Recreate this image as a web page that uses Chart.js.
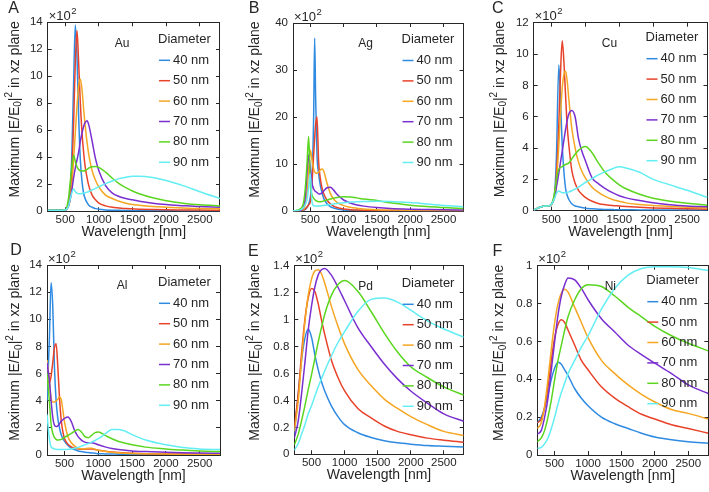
<!DOCTYPE html>
<html>
<head>
<meta charset="utf-8">
<script src="https://cdn.jsdelivr.net/npm/chart.js@4.4.1/dist/chart.umd.min.js"></script>
<style>
  html, body { margin: 0; padding: 0; background: #fff; }
  #wrap { position: relative; width: 709px; height: 492px; }
  #wrap canvas { position: absolute; left: 0; top: 0; }
</style>
</head>
<body>
<div id="wrap"></div>
<script>
// wavelength grids (nm) and field enhancement values (x10^2)
const wlAu = [240, 400, 500, 550, 575, 600, 625, 650, 675, 700, 725, 750, 775, 800, 825, 850, 900, 950, 1000, 1100, 1200, 1300, 1400, 1500, 1600, 1800, 2000, 2250, 2500, 2800];
const au40 = [0.08, 0.08, 0.1, 0.5, 1.5, 4.5, 9.5, 13.8, 11.5, 7, 3.8, 2.2, 1.3, 0.9, 0.65, 0.45, 0.3, 0.2, 0.15, 0.1, 0.08, 0.07, 0.06, 0.05, 0.05, 0.04, 0.04, 0.03, 0.03, 0.03];
const au50 = [0.08, 0.08, 0.1, 0.5, 1.2, 3, 6.5, 11, 13.4, 11, 8, 5.8, 4.3, 3.2, 2.5, 1.9, 1.2, 0.85, 0.6, 0.4, 0.3, 0.25, 0.2, 0.18, 0.16, 0.13, 0.11, 0.1, 0.09, 0.08];
const au60 = [0.08, 0.08, 0.1, 0.4, 0.9, 2, 3.8, 5.8, 7.8, 9.3, 9.8, 9, 7.5, 6.2, 5.1, 4.2, 3, 2.3, 1.8, 1.2, 0.95, 0.75, 0.6, 0.5, 0.45, 0.35, 0.3, 0.25, 0.2, 0.18];
const au70 = [0.08, 0.08, 0.1, 0.4, 0.9, 1.6, 2.5, 3.2, 3.8, 4.4, 5.2, 5.8, 6.3, 6.6, 6.7, 6.4, 5.2, 3.9, 3.0, 1.9, 1.35, 1.1, 0.95, 0.85, 0.75, 0.6, 0.5, 0.42, 0.35, 0.3];
const au80 = [0.08, 0.08, 0.1, 1.0, 2.2, 3.4, 4.15, 3.7, 3.3, 3.1, 3.0, 3.0, 2.98, 3.05, 3.1, 3.2, 3.3, 3.32, 3.25, 2.9, 2.45, 2.05, 1.75, 1.5, 1.3, 1.0, 0.78, 0.6, 0.48, 0.4];
const au90 = [0.08, 0.08, 0.1, 0.4, 0.9, 1.4, 1.65, 1.45, 1.35, 1.3, 1.3, 1.32, 1.35, 1.38, 1.42, 1.47, 1.58, 1.7, 1.82, 2.05, 2.25, 2.42, 2.53, 2.6, 2.6, 2.5, 2.28, 1.9, 1.45, 0.95];

const wlAg = [240, 350, 400, 425, 450, 475, 500, 525, 550, 565, 580, 600, 625, 650, 675, 700, 750, 800, 850, 900, 1000, 1100, 1200, 1300, 1500, 1700, 2000, 2250, 2500, 2800];
const ag40 = [0.05, 0.1, 0.2, 0.4, 0.8, 1.5, 3, 7, 20, 36.8, 24, 12, 8, 5.5, 4, 2.8, 1.6, 1.0, 0.7, 0.5, 0.3, 0.2, 0.15, 0.12, 0.1, 0.08, 0.06, 0.05, 0.05, 0.05];
const ag50 = [0.05, 0.1, 0.3, 0.5, 0.9, 1.4, 2, 6, 12, 15.5, 18.5, 20.1, 10.5, 7, 5, 3.8, 2.4, 1.6, 1.1, 0.8, 0.5, 0.35, 0.25, 0.2, 0.15, 0.12, 0.1, 0.08, 0.07, 0.06];
const ag60 = [0.05, 0.1, 0.5, 1.5, 4, 9, 13, 11, 9, 8.4, 8.1, 8.1, 8.3, 8.8, 9.0, 8.6, 6, 3.8, 2.6, 1.9, 1.2, 0.85, 0.65, 0.5, 0.35, 0.28, 0.2, 0.17, 0.15, 0.12];
const ag70 = [0.05, 0.2, 1, 3, 8, 12, 9, 6, 4.8, 4.4, 4.2, 4.0, 3.7, 3.7, 3.9, 4.3, 5.0, 5.1, 4.5, 3.6, 2.4, 1.75, 1.35, 1.1, 0.8, 0.6, 0.45, 0.38, 0.32, 0.28];
const ag80 = [0.05, 0.5, 2, 5, 10, 15.9, 6, 3.5, 2.8, 2.5, 2.3, 2.15, 2.05, 2.05, 2.1, 2.2, 2.4, 2.6, 2.8, 2.95, 3.1, 3.05, 2.85, 2.6, 2.3, 1.8, 1.3, 1.0, 0.8, 0.6];
const ag90 = [0.1, 0.3, 0.8, 1.5, 2.5, 5, 8, 2, 1.2, 1.1, 1.1, 1.1, 1.12, 1.15, 1.2, 1.25, 1.35, 1.45, 1.55, 1.65, 1.8, 1.95, 2.05, 2.1, 2.15, 2.1, 1.85, 1.55, 1.25, 0.95];

const wlCu = [240, 350, 400, 450, 500, 550, 575, 610, 635, 660, 685, 710, 735, 760, 800, 850, 900, 950, 1000, 1100, 1200, 1300, 1400, 1500, 1600, 1800, 2000, 2250, 2500, 2800];
const cu40 = [0.05, 0.25, 0.3, 0.3, 0.4, 1.2, 3.5, 9.3, 7, 4.2, 2.5, 1.4, 0.95, 0.7, 0.45, 0.3, 0.25, 0.2, 0.15, 0.12, 0.1, 0.08, 0.07, 0.06, 0.06, 0.05, 0.05, 0.05, 0.04, 0.04];
const cu50 = [0.05, 0.25, 0.3, 0.3, 0.4, 1.1, 2.3, 5.5, 8.8, 10.85, 9.5, 7.3, 5.3, 4.1, 2.6, 1.75, 1.3, 1.05, 0.85, 0.6, 0.45, 0.38, 0.33, 0.3, 0.27, 0.22, 0.18, 0.15, 0.12, 0.1];
const cu60 = [0.05, 0.25, 0.3, 0.3, 0.4, 0.9, 1.8, 4.2, 6.2, 7.8, 8.7, 8.9, 8.2, 7.0, 5.3, 4.0, 3.1, 2.5, 2.1, 1.5, 1.15, 0.9, 0.72, 0.6, 0.5, 0.4, 0.33, 0.27, 0.22, 0.18];
const cu70 = [0.05, 0.25, 0.3, 0.3, 0.4, 0.9, 1.5, 2.4, 3.1, 3.8, 4.5, 5.2, 5.8, 6.2, 6.4, 6.0, 4.6, 3.8, 3.2, 2.1, 1.7, 1.4, 1.15, 0.95, 0.82, 0.65, 0.5, 0.38, 0.3, 0.25];
const cu80 = [0.05, 0.25, 0.3, 0.3, 0.4, 1.2, 2.0, 2.65, 2.75, 2.82, 2.9, 2.95, 3.0, 3.05, 3.3, 3.6, 3.85, 4.02, 4.1, 3.7, 3.0, 2.4, 2.0, 1.65, 1.4, 1.05, 0.8, 0.6, 0.48, 0.35];
const cu90 = [0.05, 0.25, 0.3, 0.3, 0.4, 0.8, 1.1, 1.25, 1.2, 1.15, 1.15, 1.15, 1.17, 1.2, 1.27, 1.38, 1.5, 1.65, 1.8, 2.05, 2.3, 2.5, 2.68, 2.8, 2.72, 2.45, 2.0, 1.65, 1.3, 0.85];

const wlAl = [240, 275, 300, 325, 350, 375, 400, 425, 450, 475, 500, 550, 600, 650, 700, 750, 800, 850, 900, 950, 1000, 1100, 1200, 1300, 1400, 1500, 1700, 2000, 2250, 2500, 2800];
const al40 = [4.0, 8.5, 12.7, 11.0, 6.5, 4.0, 2.7, 2.0, 1.5, 1.2, 1.0, 0.7, 0.5, 0.4, 0.3, 0.25, 0.2, 0.18, 0.15, 0.13, 0.1, 0.08, 0.07, 0.06, 0.05, 0.05, 0.04, 0.04, 0.03, 0.03, 0.03];
const al50 = [5.5, 5.3, 5.8, 6.8, 7.9, 8.2, 6.5, 4.2, 2.6, 1.7, 1.2, 0.8, 0.6, 0.5, 0.45, 0.42, 0.42, 0.45, 0.45, 0.4, 0.35, 0.28, 0.22, 0.18, 0.15, 0.13, 0.1, 0.08, 0.07, 0.06, 0.05];
const al60 = [7.0, 5.5, 4.2, 3.9, 3.9, 4.0, 4.1, 4.3, 4.1, 3.3, 2.4, 1.35, 0.9, 0.65, 0.5, 0.45, 0.45, 0.5, 0.5, 0.42, 0.35, 0.27, 0.2, 0.16, 0.13, 0.11, 0.09, 0.07, 0.06, 0.05, 0.05];
const al70 = [6.8, 5.5, 4.0, 2.8, 2.2, 2.1, 2.15, 2.3, 2.5, 2.6, 2.7, 2.8, 2.45, 1.8, 1.35, 1.1, 0.95, 0.9, 0.9, 0.85, 0.75, 0.6, 0.48, 0.4, 0.35, 0.3, 0.25, 0.2, 0.17, 0.15, 0.13];
const al80 = [6.0, 4.0, 2.3, 1.6, 1.3, 1.15, 1.1, 1.12, 1.15, 1.22, 1.3, 1.45, 1.6, 1.75, 1.87, 1.7, 1.35, 1.28, 1.45, 1.65, 1.7, 1.45, 1.2, 1.0, 0.87, 0.75, 0.58, 0.45, 0.36, 0.3, 0.25];
const al90 = [3.0, 1.2, 0.6, 0.5, 0.45, 0.42, 0.4, 0.4, 0.4, 0.4, 0.4, 0.42, 0.45, 0.5, 0.55, 0.65, 0.75, 0.85, 0.95, 1.07, 1.2, 1.55, 1.88, 1.88, 1.75, 1.5, 1.1, 0.75, 0.55, 0.45, 0.4];

const wlPd = [240, 300, 350, 400, 450, 500, 550, 600, 650, 700, 800, 900, 1000, 1200, 1400, 1600, 1800, 2000, 2250, 2500, 2800];
const pd40 = [0.15, 0.45, 0.7, 0.86, 0.93, 0.87, 0.74, 0.63, 0.54, 0.47, 0.36, 0.28, 0.22, 0.16, 0.125, 0.1, 0.085, 0.075, 0.065, 0.06, 0.055];
const pd50 = [0.2, 0.45, 0.75, 1.0, 1.16, 1.23, 1.21, 1.12, 1.0, 0.89, 0.7, 0.57, 0.47, 0.34, 0.27, 0.21, 0.17, 0.145, 0.12, 0.105, 0.09];
const pd60 = [0.17, 0.4, 0.7, 0.98, 1.18, 1.3, 1.36, 1.37, 1.34, 1.27, 1.1, 0.95, 0.82, 0.63, 0.51, 0.41, 0.34, 0.28, 0.22, 0.17, 0.14];
const pd70 = [0.12, 0.25, 0.45, 0.68, 0.92, 1.1, 1.24, 1.33, 1.37, 1.38, 1.33, 1.24, 1.14, 0.94, 0.8, 0.67, 0.56, 0.47, 0.38, 0.3, 0.245];
const pd80 = [0.07, 0.15, 0.25, 0.36, 0.48, 0.59, 0.71, 0.83, 0.94, 1.04, 1.18, 1.26, 1.29, 1.21, 1.06, 0.9, 0.76, 0.65, 0.57, 0.5, 0.44];
const pd90 = [0.03, 0.08, 0.15, 0.22, 0.3, 0.36, 0.43, 0.5, 0.56, 0.62, 0.73, 0.83, 0.91, 1.06, 1.15, 1.16, 1.13, 1.07, 0.99, 0.93, 0.87];

const wlNi = [240, 300, 350, 400, 450, 500, 550, 600, 650, 700, 800, 900, 1000, 1200, 1400, 1600, 1800, 2000, 2250, 2500, 2800];
const ni40 = [0.17, 0.2, 0.25, 0.32, 0.4, 0.46, 0.49, 0.48, 0.45, 0.42, 0.35, 0.3, 0.26, 0.2, 0.165, 0.14, 0.115, 0.095, 0.08, 0.07, 0.062];
const ni50 = [0.17, 0.19, 0.25, 0.36, 0.5, 0.62, 0.69, 0.715, 0.7, 0.66, 0.58, 0.5, 0.45, 0.36, 0.3, 0.255, 0.215, 0.19, 0.16, 0.14, 0.115];
const ni60 = [0.14, 0.17, 0.26, 0.4, 0.56, 0.7, 0.8, 0.855, 0.875, 0.86, 0.78, 0.7, 0.62, 0.5, 0.43, 0.37, 0.32, 0.28, 0.24, 0.22, 0.19];
const ni70 = [0.11, 0.13, 0.2, 0.3, 0.45, 0.6, 0.74, 0.84, 0.9, 0.935, 0.925, 0.88, 0.82, 0.72, 0.65, 0.58, 0.53, 0.485, 0.43, 0.37, 0.325];
const ni80 = [0.07, 0.09, 0.13, 0.2, 0.29, 0.4, 0.5, 0.58, 0.66, 0.73, 0.82, 0.88, 0.9, 0.89, 0.84, 0.78, 0.73, 0.68, 0.63, 0.59, 0.55];
const ni90 = [0.035, 0.04, 0.06, 0.09, 0.14, 0.2, 0.27, 0.33, 0.38, 0.43, 0.5, 0.57, 0.63, 0.77, 0.88, 0.95, 0.985, 0.995, 0.995, 0.99, 0.975];

const diameters = ['40 nm', '50 nm', '60 nm', '70 nm', '80 nm', '90 nm'];
const xTicks = [500, 1000, 1500, 2000, 2500];
const yTicks14 = [0, 2, 4, 6, 8, 10, 12, 14];
const yTicks40 = [0, 10, 20, 30, 40];
const yTicks12 = [0, 2, 4, 6, 8, 10, 12];
const yTicksPd = [0, 0.2, 0.4, 0.6, 0.8, 1, 1.2, 1.4];
const yTicksNi = [0, 0.2, 0.4, 0.6, 0.8, 1];

const colors = ['#2f8be2', '#e8432a', '#f5a623', '#7a2fd0', '#5ad61f', '#62eef2'];
const FONT = '"Liberation Sans", Arial, Helvetica, sans-serif';
const INK = '#262626';
const W = 709, H = 492;
const Y_AXIS_W = 40, X_AXIS_H = 22;

const panels = [
  { letter: 'A', metal: 'Au', wl: wlAu, ys: [au40, au50, au60, au70, au80, au90], yMax: 14, yTicks: yTicks14,
    area: { left: 47.7, top: 22.3, right: 220, bottom: 211.3 }, titleDx: -33, letterDx: -34, legTop: 17 },
  { letter: 'B', metal: 'Ag', wl: wlAg, ys: [ag40, ag50, ag60, ag70, ag80, ag90], yMax: 40, yTicks: yTicks40,
    area: { left: 293, top: 23, right: 463.5, bottom: 211.3 }, titleDx: -37.5, letterDx: -39, legTop: 16.5 },
  { letter: 'C', metal: 'Cu', wl: wlCu, ys: [cu40, cu50, cu60, cu70, cu80, cu90], yMax: 12, yTicks: yTicks12,
    area: { left: 533.7, top: 22.7, right: 707.5, bottom: 210.7 }, titleDx: -34, letterDx: -36, legTop: 15 },
  { letter: 'D', metal: 'Al', wl: wlAl, ys: [al40, al50, al60, al70, al80, al90], yMax: 14, yTicks: yTicks14,
    area: { left: 47, top: 265, right: 220, bottom: 455 }, titleDx: -32, letterDx: -31, legTop: 17.3 },
  { letter: 'E', metal: 'Pd', wl: wlPd, ys: [pd40, pd50, pd60, pd70, pd80, pd90], yMax: 1.4, yTicks: yTicksPd,
    area: { left: 294.3, top: 265.7, right: 463.7, bottom: 454.3 }, titleDx: -39, letterDx: -41, legTop: 17.6 },
  { letter: 'F', metal: 'Ni', wl: wlNi, ys: [ni40, ni50, ni60, ni70, ni80, ni90], yMax: 1, yTicks: yTicksNi,
    area: { left: 537.3, top: 265.7, right: 708.3, bottom: 455 }, titleDx: -38.5, letterDx: -40, legTop: 15 }
];

// panel letter, x10^2 factor, metal name, in-axes legend and axis titles
const decor = {
  id: 'decor',
  afterDraw(chart, args, o) {
    const ctx = chart.ctx, a = chart.chartArea;
    ctx.save();
    ctx.fillStyle = INK;
    ctx.textBaseline = 'middle';

    ctx.font = '16px ' + FONT;
    ctx.textAlign = 'center';
    ctx.fillText(o.letter, a.left + o.letterDx, a.top - 14);

    ctx.textAlign = 'left';
    ctx.font = '13px ' + FONT;
    ctx.fillText('\u00d710', a.left + 1, a.top - 6);
    const w10 = ctx.measureText('\u00d710').width;
    ctx.font = '9.5px ' + FONT;
    ctx.fillText('2', a.left + 1.5 + w10, a.top - 11);

    ctx.font = '12px ' + FONT;
    ctx.textAlign = 'center';
    ctx.fillText(o.metal, a.right - 98, a.top + 21);

    ctx.font = '13px ' + FONT;
    ctx.textAlign = 'left';
    ctx.fillText('Diameter', a.right - 62, a.top + o.legTop);
    chart.data.datasets.forEach((ds, i) => {
      const y = a.top + o.legTop + 21 + i * 20.4;
      ctx.strokeStyle = ds.borderColor;
      ctx.lineWidth = 1.5;
      ctx.beginPath();
      ctx.moveTo(a.right - 61, y);
      ctx.lineTo(a.right - 50, y);
      ctx.stroke();
      ctx.fillText(ds.label, a.right - 47, y);
    });

    ctx.font = '14px ' + FONT;
    ctx.textAlign = 'center';
    ctx.fillText('Wavelength [nm]', (a.left + a.right) / 2, a.bottom + 21);

    // y title with subscript 0 and superscript 2
    const parts = [['Maximum |E/E', 0], ['0', 1], ['|', 0], ['2', 2], [' in xz plane', 0]];
    const fontOf = k => (k ? '10px ' : '14px ') + FONT;
    let total = 0;
    parts.forEach(([t, k]) => { ctx.font = fontOf(k); total += ctx.measureText(t).width; });
    ctx.translate(a.left + o.titleDx, (a.top + a.bottom) / 2 - 7.5);
    ctx.rotate(-Math.PI / 2);
    ctx.textAlign = 'left';
    let x = -total / 2;
    parts.forEach(([t, k]) => {
      ctx.font = fontOf(k);
      ctx.fillText(t, x, k === 1 ? 4 : k === 2 ? -5 : 0);
      x += ctx.measureText(t).width;
    });
    ctx.restore();
  }
};

const wrap = document.getElementById('wrap');

panels.forEach(p => {
  const canvas = document.createElement('canvas');
  canvas.width = W;
  canvas.height = H;
  wrap.appendChild(canvas);

  const tickList = list => s => { s.ticks = list.map(v => ({ value: v })); };
  const grid = { drawOnChartArea: false, tickLength: -4, color: INK, lineWidth: 1 };
  const border = { display: true, color: INK, width: 1 };
  const tickFont = { family: FONT, size: 11.5 };

  new Chart(canvas, {
    type: 'line',
    data: {
      datasets: p.ys.map((ys, i) => ({
        label: diameters[i],
        data: p.wl.map((x, j) => ({ x: x, y: ys[j] })),
        borderColor: colors[i],
        borderWidth: 1.5,
        pointRadius: 0,
        fill: false,
        cubicInterpolationMode: 'monotone',
        order: 5 - i
      }))
    },
    options: {
      responsive: false,
      animation: false,
      devicePixelRatio: 1,
      events: [],
      layout: {
        padding: {
          left: p.area.left - Y_AXIS_W,
          top: p.area.top,
          right: W - p.area.right,
          bottom: H - p.area.bottom - X_AXIS_H
        }
      },
      plugins: {
        legend: { display: false },
        tooltip: { enabled: false },
        decor: { letter: p.letter, metal: p.metal, titleDx: p.titleDx, letterDx: p.letterDx, legTop: p.legTop }
      },
      scales: {
        x: {
          type: 'linear', min: 240, max: 2800,
          afterFit: s => { s.height = X_AXIS_H; },
          afterBuildTicks: tickList(xTicks),
          grid: grid, border: border,
          ticks: { font: tickFont, color: INK, padding: 6, maxRotation: 0, autoSkip: false, callback: v => String(v) }
        },
        x2: {
          type: 'linear', position: 'top', min: 240, max: 2800,
          afterFit: s => { s.height = 0; },
          afterBuildTicks: tickList(xTicks),
          grid: grid, border: border,
          ticks: { display: false }
        },
        y: {
          type: 'linear', min: 0, max: p.yMax,
          afterFit: s => { s.width = Y_AXIS_W; },
          afterBuildTicks: tickList(p.yTicks),
          grid: grid, border: border,
          ticks: { font: tickFont, color: INK, padding: 9, autoSkip: false, callback: v => String(+v.toFixed(2)) }
        },
        y2: {
          type: 'linear', position: 'right', min: 0, max: p.yMax,
          afterFit: s => { s.width = 0; },
          afterBuildTicks: tickList(p.yTicks),
          grid: grid, border: border,
          ticks: { display: false }
        }
      }
    },
    plugins: [decor]
  });
});
</script>
</body>
</html>
